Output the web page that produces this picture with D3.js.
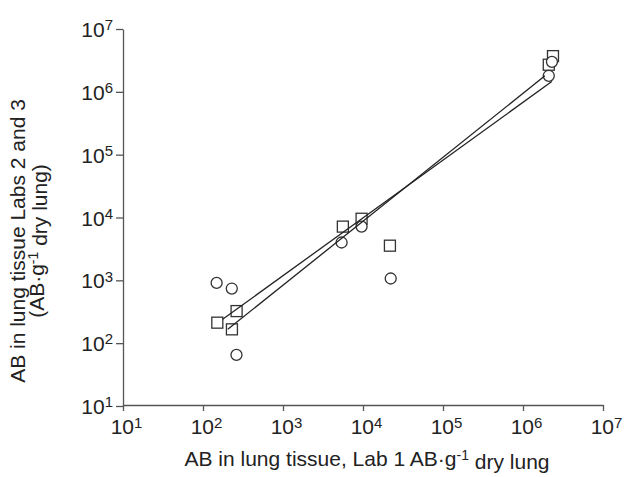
<!DOCTYPE html>
<meta charset="utf-8">
<style>
body { margin: 0; background: #fff; }
text { font-family: "Liberation Sans", Arial, sans-serif; fill: #222; }
.tickLabel { font-size: 21px; }
.axisTitle { font-size: 21px; }
.domain, .tick line { stroke: #555; stroke-width: 1.3px; }
</style>
<svg width="624" height="477"></svg>
<script src="https://cdnjs.cloudflare.com/ajax/libs/d3/7.8.5/d3.min.js"></script>
<script>

// tick values (decades)
const xTicks = [1e1, 1e2, 1e3, 1e4, 1e5, 1e6, 1e7];
const yTicks = [1e1, 1e2, 1e3, 1e4, 1e5, 1e6, 1e7];

// squares: [Lab 1, Labs 2/3]
const squares = [
  [151, 212], [263, 324], [230, 166],
  [5600, 7160], [9600, 9550], [21700, 3560],
  [2.37e6, 3.7e6], [2.1e6, 2.7e6]
];
// circles
const circles = [
  [148, 910], [229, 740], [262, 65],
  [5400, 4000], [9600, 7160], [22200, 1070],
  [2.3e6, 3.0e6], [2.1e6, 1.8e6]
];

// regression lines, end points
const lineSteep = [[204, 166], [1.88e6, 1.80e6]];
const lineShallow = [[176, 240], [2.29e6, 1.46e6]];

const svg = d3.select("svg");

const x = d3.scaleLog().domain([1e1, 1e7]).range([123, 603]);
const y = d3.scaleLog().domain([1e1, 1e7]).range([406, 29]);

// helper for "10^n" labels
function powLabel(sel) {
  sel.each(function(d) {
    const t = d3.select(this).text(null);
    t.append("tspan").text("10");
    t.append("tspan")
      .attr("dy", "-0.45em")
      .attr("font-size", "15px")
      .text(Math.round(Math.log10(d)));
  });
}

//x axis
const gx = svg.append("g")
    .attr("transform", "translate(0,405)")
    .call(d3.axisBottom(x).tickValues(xTicks).tickSize(6).tickSizeOuter(0).tickPadding(4));
gx.selectAll(".tick text")
    .attr("class", "tickLabel")
    .attr("dy", "0.92em")
    .attr("dx", "3")
    .call(powLabel);

//y axis
const gy = svg.append("g")
    .attr("transform", "translate(123,0)")
    .call(d3.axisLeft(y).tickValues(yTicks).tickSize(7).tickSizeOuter(0).tickPadding(3));
gy.selectAll(".tick text")
    .attr("class", "tickLabel")
    .attr("dy", "0.36em")
    .call(powLabel);

svg.selectAll(".tick text").style("fill", "#222");

//markers
const line = d3.line().x(d => x(d[0])).y(d => y(d[1]));

svg.append("g").selectAll("rect")
    .data(squares)
  .enter().append("rect")
    .attr("x", d => x(d[0]) - 5.5)
    .attr("y", d => y(d[1]) - 5.5)
    .attr("width", 11)
    .attr("height", 11)
    .attr("fill", "#fff")
    .attr("stroke", "#333")
    .attr("stroke-width", 1.3);

svg.append("g").selectAll("circle")
    .data(circles)
  .enter().append("circle")
    .attr("cx", d => x(d[0]))
    .attr("cy", d => y(d[1]))
    .attr("r", 5.5)
    .attr("fill", "#fff")
    .attr("stroke", "#333")
    .attr("stroke-width", 1.3);

//regression lines
svg.append("g").selectAll("path")
    .data([lineSteep, lineShallow])
  .enter().append("path")
    .attr("d", line)
    .attr("fill", "none")
    .attr("stroke", "#222")
    .attr("stroke-width", 1.3);

//axis titles
const xt = svg.append("text")
    .attr("class", "axisTitle")
    .attr("x", 367)
    .attr("y", 466)
    .attr("text-anchor", "middle");
xt.append("tspan").text("AB in lung tissue, Lab 1 AB·g");
xt.append("tspan").attr("dy", "-0.45em").attr("font-size", "14px").text("-1");
xt.append("tspan").attr("dy", "0.45em").text(" dry lung");

const yt = svg.append("g")
    .attr("transform", "translate(0,241) rotate(-90)");
yt.append("text")
    .attr("class", "axisTitle")
    .attr("x", 0)
    .attr("y", 25)
    .attr("text-anchor", "middle")
    .text("AB in lung tissue Labs 2 and 3");
const yt2 = yt.append("text")
    .attr("class", "axisTitle")
    .attr("x", 0)
    .attr("y", 44)
    .attr("text-anchor", "middle");
yt2.append("tspan").text("(AB·g");
yt2.append("tspan").attr("dy", "-0.45em").attr("font-size", "14px").text("-1");
yt2.append("tspan").attr("dy", "0.45em").text(" dry lung)");

</script>
